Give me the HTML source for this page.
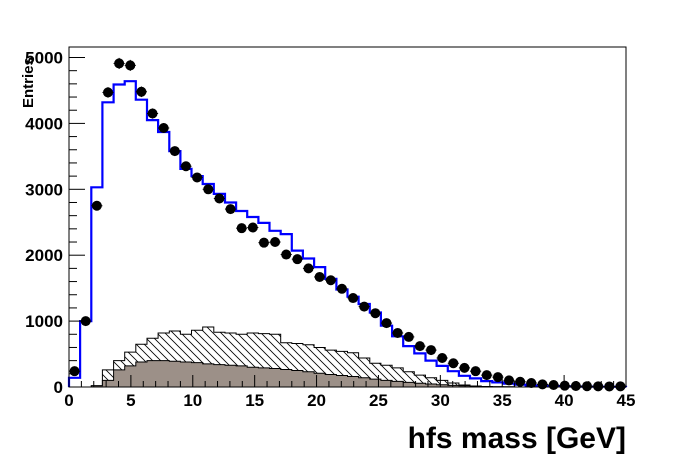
<!DOCTYPE html>
<html><head><meta charset="utf-8"><style>
html,body{margin:0;padding:0;background:#fff;}
svg{display:block;font-family:"Liberation Sans",Arial,sans-serif;font-weight:bold;}
</style></head><body>
<svg id="s" width="696" height="472" viewBox="0 0 696 472" xmlns="http://www.w3.org/2000/svg">
<defs>
<pattern id="h" patternUnits="userSpaceOnUse" width="8" height="8">
<path d="M-2,-2 L10,10 M-2,6 L2,10 M6,-2 L10,2" stroke="#000" stroke-width="0.8"/>
</pattern>
</defs>
</svg>
<script>
var s=document.getElementById('s');
var X0=69,X1=626,Y0=387,YT=47;
function px(v){return X0+(X1-X0)*v/45;}
function py(v){return Y0-v*0.0659;}
var bw=0.9;
var blue=[140,1000,3030,4320,4590,4640,4360,4050,3870,3580,3310,3200,3080,2930,2800,2670,2580,2490,2370,2320,2070,1950,1820,1640,1480,1370,1260,1130,930,770,620,510,400,320,240,170,130,90,70,50,35,25,20,15,10,8,6,5,4,3];
var gray=[0,0,20,100,260,320,380,400,400,390,380,370,350,340,330,320,300,290,280,265,250,230,210,190,175,160,140,120,100,85,70,58,45,35,25,18,12,8,5,3,0,0,0,0,0,0,0,0,0,0];
var hatch=[0,0,20,260,400,530,650,740,820,850,800,860,910,830,820,800,820,810,800,670,660,640,600,560,540,520,440,360,330,290,230,180,140,100,60,30,15,8,4,2,0,0,0,0,0,0,0,0,0,0];
var pts=[240,1000,2750,4470,4910,4880,4480,4150,3930,3580,3350,3180,3000,2860,2700,2410,2420,2190,2200,2010,1940,1800,1670,1620,1490,1350,1220,1120,970,820,760,620,560,440,360,290,240,180,150,100,80,60,40,30,20,15,12,10,8,10];
function step(arr,closed){
 var d='M'+px(0)+','+Y0;
 for(var i=0;i<arr.length;i++){d+=' L'+px(i*bw).toFixed(1)+','+py(arr[i]).toFixed(1)+' L'+px((i+1)*bw).toFixed(1)+','+py(arr[i]).toFixed(1);}
 d+=' L'+px(45)+','+Y0+(closed?' Z':'');
 return d;
}
var h='';
h+='<path d="'+step(hatch,true)+'" fill="url(#h)" stroke="#000" stroke-width="1"/>';
h+='<path d="'+step(gray,true)+'" fill="#9c9088" stroke="#000" stroke-width="1"/>';
h+='<path d="'+step(blue,false)+'" fill="none" stroke="#0000ff" stroke-width="2.2"/>';
for(var i=0;i<pts.length;i++){
 var cx=px((i+0.5)*bw),cy=py(pts[i]),e=Math.sqrt(pts[i])*0.0659*1.2;
 h+='<line x1="'+px(i*bw)+'" x2="'+px((i+1)*bw)+'" y1="'+cy+'" y2="'+cy+'" stroke="#000" stroke-width="1"/>';
 h+='<line x1="'+cx+'" x2="'+cx+'" y1="'+(cy-e)+'" y2="'+(cy+e)+'" stroke="#000" stroke-width="1"/>';
 h+='<circle cx="'+cx+'" cy="'+cy+'" r="5" fill="#000"/>';
}
h+='<rect x="'+X0+'" y="'+YT+'" width="'+(X1-X0)+'" height="'+(Y0-YT)+'" fill="none" stroke="#000" stroke-width="1"/>';
for(var v=0;v<=5000;v+=200){
 var y=py(v),L=(v%1000==0)?16:8;
 h+='<line x1="'+X0+'" x2="'+(X0+L)+'" y1="'+y+'" y2="'+y+'" stroke="#000"/>';
 if(v%1000==0)h+='<text x="63" y="'+(y+6)+'" font-size="17" text-anchor="end">'+v+'</text>';
}
for(var v=0;v<=45;v+=1){
 var x=px(v),L=(v%5==0)?12:6;
 h+='<line x1="'+x+'" x2="'+x+'" y1="'+Y0+'" y2="'+(Y0-L)+'" stroke="#000"/>';
 if(v%5==0)h+='<text x="'+x+'" y="406" font-size="17" text-anchor="middle">'+v+'</text>';
}
h+='<text transform="translate(33,108) rotate(-90)" font-size="15">Entries</text>';
h+='<text x="626" y="448" font-size="30" text-anchor="end">hfs mass [GeV]</text>';
s.insertAdjacentHTML('beforeend',h);
</script>
</body></html>
